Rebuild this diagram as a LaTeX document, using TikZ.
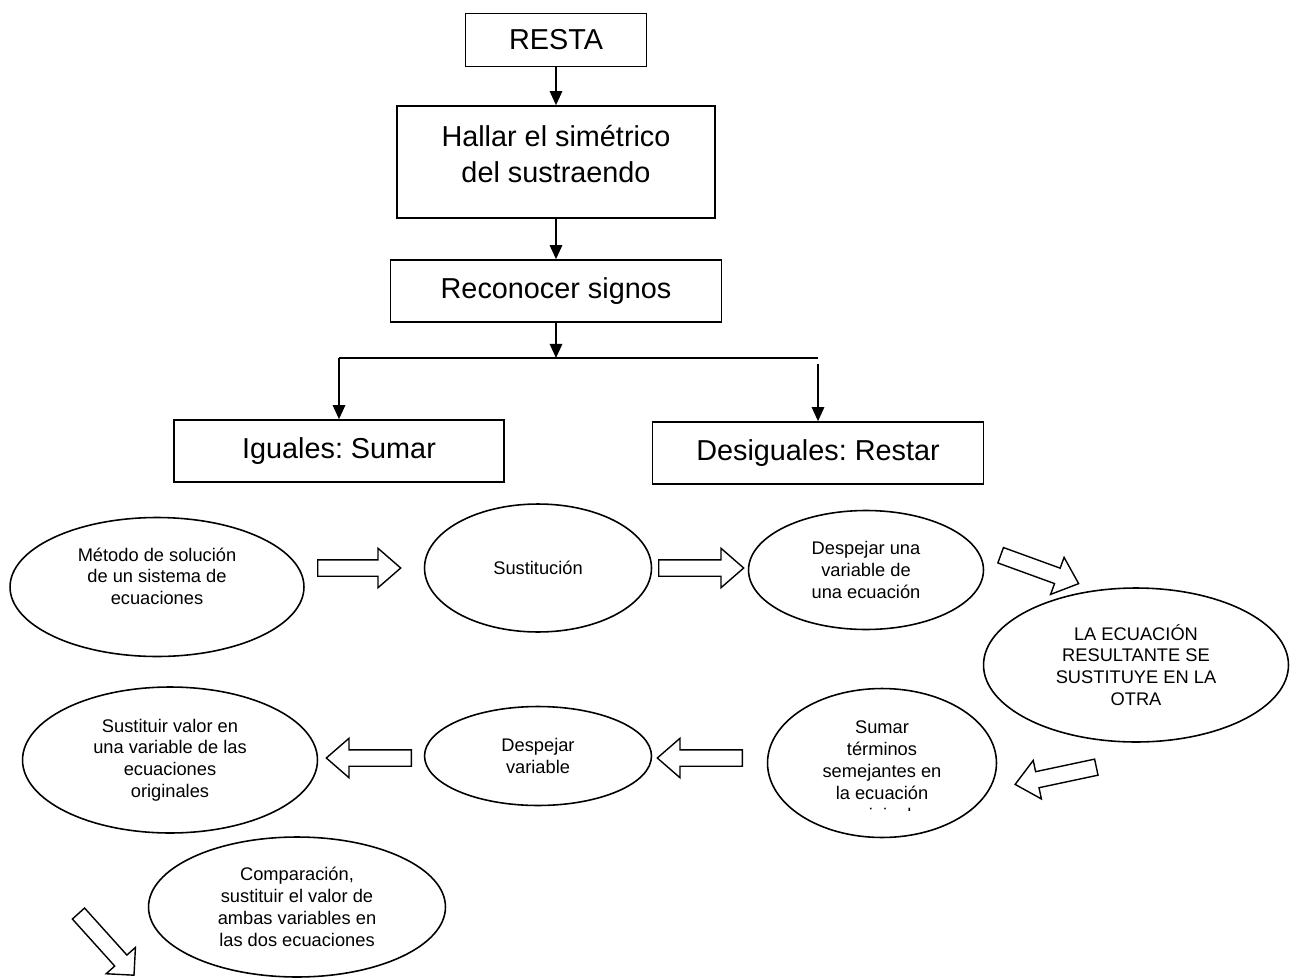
\documentclass[tikz,border=0pt]{standalone}
\usepackage{fontspec}
\setmainfont{Liberation Sans}
\usetikzlibrary{arrows.meta, shapes.geometric, shapes.arrows}
\frenchspacing

\begin{document}
\begin{tikzpicture}[
    x=0.02cm, y=-0.02cm,
    >={Triangle[length=8pt, width=7pt]},
    box/.style={draw, line width=0.9pt, align=center, inner sep=0pt,
        font=\fontsize{16.4}{20.4}\selectfont},
    ovaltext/.style={align=center, inner sep=0pt,
        font=\fontsize{10.4}{12.4}\selectfont},
    oval/.style={ovaltext, draw, ellipse, line width=0.9pt},
    arr/.style={->, line width=1.2pt},
    fatarrow/.style={single arrow, draw, line width=0.8pt, anchor=tail,
        minimum height=1.66cm, minimum width=0.76cm, inner sep=0pt,
        inner ysep=0.15cm, single arrow head extend=0.23cm,
        single arrow tip angle=82},
]
\useasboundingbox (0,0) rectangle (1298,980);

% --- Flow of the subtraction ---
\node[box, minimum width=3.62cm, minimum height=1.06cm] (resta) at (556,40) {RESTA};
\node[box, minimum width=6.36cm, minimum height=2.24cm] (hallar) at (556,162) {};
\node[box, draw=none] (hallartxt) at (556,154) {Hallar el simétrico\\del sustraendo};
\node[box, minimum width=6.62cm, minimum height=1.24cm] (reconocer) at (556,291) {Reconocer signos};
\node[box, minimum width=6.6cm, minimum height=1.24cm] (iguales) at (339,451) {Iguales: Sumar};
\node[box, minimum width=6.62cm, minimum height=1.24cm] (desiguales) at (818,453) {Desiguales: Restar};

\draw[arr] (resta) -- (hallar);
\draw[arr] (hallar) -- (reconocer);

% split into the two cases
\coordinate (split) at (556,358);
\coordinate (splitL) at (339,358);
\coordinate (splitR) at (818,358);
\coordinate (splitRb) at (818,364);
\draw[arr] (reconocer) -- (split);
\draw[line width=1.2pt] (splitL) -- (splitR);
\draw[arr] (splitL) -- (iguales);
\draw[arr] (splitRb) -- (desiguales);

% --- Systems of equations ---
\node[oval, minimum width=5.88cm, minimum height=2.78cm] (metodo) at (157,587)
    {Método de solución\\de un sistema de\\ecuaciones\\\mbox{}};
\node[oval, minimum width=4.54cm, minimum height=2.56cm] (sustitucion) at (538,568)
    {Sustitución};
\node[oval, minimum width=4.7cm, minimum height=2.38cm] (despejaruna) at (866,570)
    {Despejar una\\variable de\\una ecuación};
\node[oval, minimum width=6.1cm, minimum height=3.08cm] (resultante) at (1136,665)
    {LA ECUACIÓN\\RESULTANTE SE\\SUSTITUYE EN LA\\OTRA};
\node[oval, minimum width=4.58cm, minimum height=2.98cm] (sumar) at (882,763) {};
\begin{scope}
    % last line cut off by the text frame
    \clip (770,700) rectangle (995,810);
    \node[ovaltext] (sumartxt) at (882,773)
        {Sumar\\términos\\semejantes en\\la ecuación\\original};
\end{scope}
\node[oval, minimum width=4.54cm, minimum height=1.98cm] (despejarvar) at (538,756)
    {Despejar\\variable};
\node[oval, minimum width=5.9cm, minimum height=2.92cm] (sustituir) at (170,760)
    {Sustituir valor en\\una variable de las\\ecuaciones\\originales};
\node[oval, minimum width=5.94cm, minimum height=2.8cm] (comparacion) at (297,907)
    {Comparación,\\sustituir el valor de\\ambas variables en\\las dos ecuaciones};

% block arrows between the steps
\node[fatarrow] (a1) at (317,568) {};
\node[fatarrow, minimum height=1.7cm] (a2) at (658,568) {};
\node[fatarrow, rotate=-20] (a3) at (1000,555) {};
\node[fatarrow, rotate=192] (a4) at (1097,767) {};
\node[fatarrow, minimum height=1.7cm, rotate=180] (a5) at (743,758) {};
\node[fatarrow, minimum height=1.7cm, rotate=180] (a6) at (412,758) {};
\node[fatarrow, rotate=-48, single arrow tip angle=90] (a7) at (78,913) {};

\end{tikzpicture}
\end{document}
